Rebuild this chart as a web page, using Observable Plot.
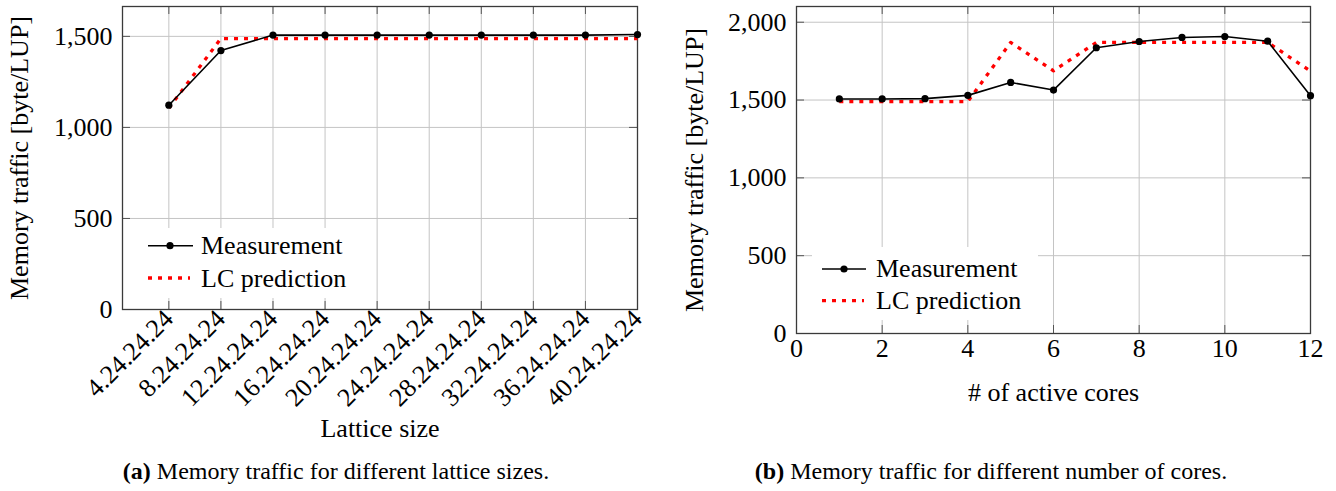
<!DOCTYPE html>
<html>
<head>
<meta charset="utf-8">
<script src="https://cdn.jsdelivr.net/npm/d3@7"></script>
<script src="https://cdn.jsdelivr.net/npm/@observablehq/plot@0.6"></script>
<style>
  html, body { margin: 0; padding: 0; background: #fff; }
  #root { position: relative; width: 1336px; height: 491px; overflow: hidden; font-family: 'Liberation Serif', Tinos, 'Times New Roman', serif; color: #000; }
  #root svg, #root svg text { font-family: 'Liberation Serif', Tinos, 'Times New Roman', serif !important; }
  .chart { position: absolute; top: 0; }
  .legend { position: absolute; background: #fff; }
  .legend svg { display: block; }
  .caption { position: absolute; top: 458px; font-size: 24px; line-height: 26px; white-space: nowrap; text-align: center; width: 668px; font-family: 'Liberation Serif', Tinos, 'Times New Roman', serif; }
</style>
</head>
<body>
<div id="root">
  <div class="caption" id="capA" style="left: 2px;"></div>
  <div class="caption" id="capB" style="left: 657px;"></div>
</div>
<script>
// ---------- data ----------
const latticeLabels = ["4.24.24.24", "8.24.24.24", "12.24.24.24", "16.24.24.24", "20.24.24.24",
                       "24.24.24.24", "28.24.24.24", "32.24.24.24", "36.24.24.24", "40.24.24.24"];
const latticeMeasurement = [1122, 1422, 1507, 1507, 1507, 1507, 1507, 1507, 1507, 1510];
const latticePrediction  = [1106, 1488, 1488, 1488, 1488, 1488, 1488, 1488, 1488, 1488];

const cores = [1, 2, 3, 4, 5, 6, 7, 8, 9, 10, 11, 12];
const coresMeasurement = [1507, 1507, 1509, 1530, 1613, 1564, 1836, 1876, 1902, 1908, 1878, 1528];
const coresPrediction  = [1490, 1490, 1490, 1490, 1870, 1688, 1870, 1870, 1870, 1870, 1870, 1686];

const yTicksA = [0, 500, 1000, 1500];
const yTicksB = [0, 500, 1000, 1500, 2000];
const xTicksB = [0, 2, 4, 6, 8, 10, 12];

const seriesNames = ["Measurement", "LC prediction"];
const captionA = ["(a)", " Memory traffic for different lattice sizes."];
const captionB = ["(b)", " Memory traffic for different number of cores."];
const yLabel = "Memory traffic [byte/LUP]";

// ---------- style ----------
const FONT = "'Liberation Serif', Tinos, 'Times New Roman', serif";
const FS = 26;
const gridColor = "#c4c4c4";
const frameColor = "#3a3a3a";
const tickColor = "#555";
const redDash = "4 6";

const root = document.getElementById("root");

function chart({width, height, mL, mR, mT, mB, xDomain, yDomain, xTicks, xFormat, xRotate, yTicks, xLabel, xLabelOffset, yLabelOffset, xPad, xs, meas, pred}) {
  const W = width - mL - mR, H = height - mT - mB;
  const tickLen = 8;
  const measData = xs.map((x, i) => ({x, y: meas[i]}));
  const predData = xs.map((x, i) => ({x, y: pred[i]}));
  return Plot.plot({
    width, height,
    marginLeft: mL, marginRight: mR, marginTop: mT, marginBottom: mB,
    style: {fontFamily: FONT, fontSize: FS + "px", color: "#000", background: "transparent", overflow: "visible"},
    x: {domain: xDomain},
    y: {domain: yDomain},
    marks: [
      Plot.gridX(xTicks, {stroke: gridColor, strokeOpacity: 1, strokeWidth: 1}),
      Plot.gridY(yTicks, {stroke: gridColor, strokeOpacity: 1, strokeWidth: 1}),
      Plot.ruleX(xTicks, {x: d => d, insetTop: H - tickLen, stroke: tickColor}),
      Plot.ruleX(xTicks, {x: d => d, insetBottom: H - tickLen, stroke: tickColor}),
      Plot.ruleY(yTicks, {y: d => d, insetRight: W - tickLen, stroke: tickColor}),
      Plot.ruleY(yTicks, {y: d => d, insetLeft: W - tickLen, stroke: tickColor}),
      Plot.axisY(yTicks, {tickSize: 0, tickPadding: 10, tickFormat: d3.format(","),
        label: yLabel, labelAnchor: "center", labelOffset: yLabelOffset, labelArrow: "none", fontSize: FS}),
      Plot.axisX(xTicks, {tickSize: 0, tickPadding: xPad, tickFormat: xFormat, tickRotate: xRotate,
        label: xLabel, labelAnchor: "center", labelOffset: xLabelOffset, labelArrow: "none", fontSize: FS}),
      Plot.frame({stroke: frameColor, strokeWidth: 1.3}),
      Plot.line(predData, {x: "x", y: "y", stroke: "#ff0000", strokeWidth: 3.3, strokeDasharray: redDash, strokeLinecap: "butt"}),
      Plot.line(measData, {x: "x", y: "y", stroke: "#000", strokeWidth: 1.6}),
      Plot.dot(measData, {x: "x", y: "y", r: 3.6, fill: "#000", stroke: "none"})
    ]
  });
}

const idx = latticeLabels.map((_, i) => i);
const svgA = chart({
  width: 668, height: 440, mL: 122, mR: 31, mT: 6, mB: 131,
  xDomain: [-0.89, 9], yDomain: [0, 1664],
  xTicks: idx, xFormat: i => latticeLabels[i], xRotate: -45, xPad: 5,
  yTicks: yTicksA, xLabel: "Lattice size", xLabelOffset: 127, yLabelOffset: 113,
  xs: idx, meas: latticeMeasurement, pred: latticePrediction
});
svgA.classList.add("chart");
svgA.style.left = "0px";
root.appendChild(svgA);

const svgB = chart({
  width: 668, height: 440, mL: 128, mR: 26, mT: 6, mB: 107,
  xDomain: [0, 12], yDomain: [0, 2101],
  xTicks: xTicksB, xFormat: d => String(d), xRotate: 0, xPad: 5,
  yTicks: yTicksB, xLabel: "# of active cores", xLabelOffset: 67, yLabelOffset: 112,
  xs: cores, meas: coresMeasurement, pred: coresPrediction
});
svgB.classList.add("chart");
svgB.style.left = "668px";
root.appendChild(svgB);

function legend({left, top, width, height, y1, y2, lineX0, lineX1, predX1, dotX, textX, base1, base2}) {
  const div = document.createElement("div");
  div.className = "legend";
  Object.assign(div.style, {left: left + "px", top: top + "px", width: width + "px", height: height + "px"});
  const svg = d3.create("svg").attr("width", width).attr("height", height)
    .style("font-family", FONT).style("font-size", FS + "px");
  svg.append("line").attr("x1", lineX0).attr("x2", lineX1).attr("y1", y1).attr("y2", y1)
    .attr("stroke", "#000").attr("stroke-width", 1.6);
  svg.append("circle").attr("cx", dotX).attr("cy", y1).attr("r", 3.6).attr("fill", "#000");
  svg.append("text").attr("x", textX).attr("y", base1).text(seriesNames[0]);
  svg.append("line").attr("x1", lineX0).attr("x2", predX1).attr("y1", y2).attr("y2", y2)
    .attr("stroke", "#ff0000").attr("stroke-width", 3.3).attr("stroke-dasharray", redDash);
  svg.append("text").attr("x", textX).attr("y", base2).text(seriesNames[1]);
  div.appendChild(svg.node());
  root.appendChild(div);
}
legend({left: 135, top: 228, width: 222, height: 70, y1: 17.7, y2: 50, lineX0: 13, lineX1: 58, predX1: 55, dotX: 35, textX: 66, base1: 26, base2: 59});
legend({left: 812, top: 247, width: 226, height: 73, y1: 22, y2: 53.7, lineX0: 10, lineX1: 54, predX1: 52, dotX: 32, textX: 64, base1: 29.5, base2: 61.5});

function caption(parts, id) {
  const div = document.getElementById(id);
  const b = document.createElement("b");
  b.textContent = parts[0];
  div.appendChild(b);
  div.appendChild(document.createTextNode(parts[1]));
}
caption(captionA, "capA");
caption(captionB, "capB");
</script>
</body>
</html>
